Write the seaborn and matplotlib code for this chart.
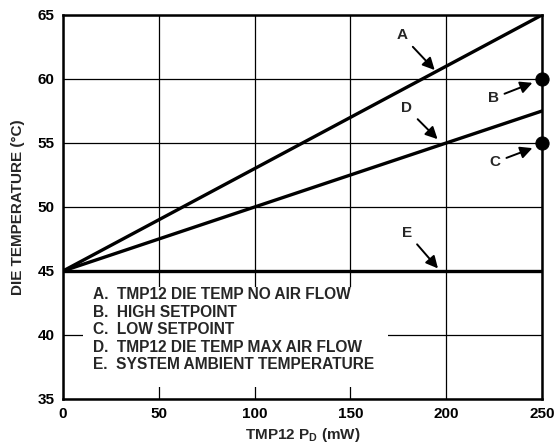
import matplotlib
matplotlib.use("Agg")
import matplotlib.pyplot as plt
import seaborn as sns
import pandas as pd
from matplotlib.patches import Rectangle

power_mw = [0, 250]
die_no_air = [45, 65]
die_max_air = [45, 57.5]
ambient = [45, 45]
setpoint_x = [250, 250]
setpoint_y = [60, 55]
x_ticks = [0, 50, 100, 150, 200, 250]
y_ticks = [35, 40, 45, 50, 55, 60, 65]
legend_lines = ["A.  TMP12 DIE TEMP NO AIR FLOW",
                "B.  HIGH SETPOINT",
                "C.  LOW SETPOINT",
                "D.  TMP12 DIE TEMP MAX AIR FLOW",
                "E.  SYSTEM AMBIENT TEMPERATURE"]

sns.set_style("white")
plt.rcParams['font.family'] = ['Liberation Sans', 'DejaVu Sans']
plt.rcParams['font.weight'] = 'bold'
plt.rcParams['mathtext.fontset'] = 'custom'
plt.rcParams['mathtext.rm'] = 'Liberation Sans:bold'
plt.rcParams['mathtext.bf'] = 'Liberation Sans:bold'

fig = plt.figure(figsize=(5.54, 4.45), dpi=100)
ax = fig.add_axes([63/554, 1-399/445, (542-63)/554, (399-15)/445])

df = pd.DataFrame({"x": power_mw * 3,
                   "y": die_no_air + die_max_air + ambient,
                   "s": ["A"]*2 + ["D"]*2 + ["E"]*2})
sns.lineplot(data=df, x="x", y="y", units="s", estimator=None, color="black",
             lw=2.4, ax=ax, legend=False, zorder=3)
sns.scatterplot(x=setpoint_x, y=setpoint_y, color="black", s=90, ax=ax,
                zorder=4, clip_on=False, edgecolor="black")

ax.set_xlim(0, 250)
ax.set_ylim(35, 65)
ax.set_xticks(x_ticks)
ax.set_yticks(y_ticks)
ax.grid(True, color="black", lw=0.9)
ax.set_axisbelow(True)
for s in ax.spines.values():
    s.set_linewidth(1.8)
    s.set_color("black")
ax.tick_params(length=0, labelsize=11, pad=6, colors="black")
for t in ax.get_xticklabels() + ax.get_yticklabels():
    t.set_fontweight("bold")

ax.set_xlabel(r"TMP12 P$_\mathbf{D}$ (mW)", fontsize=11, fontweight="bold", labelpad=3)
ax.set_ylabel("DIE TEMPERATURE (°C)", fontsize=11, fontweight="bold", labelpad=9)

ax.add_patch(Rectangle((10.5, 35.9), 159, 7.85, facecolor="white", edgecolor="none", zorder=1))
for i, line in enumerate(legend_lines):
    ax.text(15.5, 43.15 - i*1.37, line, fontsize=11.2, fontweight="bold",
            va="center", ha="left", zorder=2)

ap = dict(arrowstyle="-|>", color="black", lw=1.4, mutation_scale=18, shrinkA=2, shrinkB=0)
lab = dict(fontsize=11, fontweight="bold", ha="center", va="center", arrowprops=ap)
ax.annotate("A", xy=(194, 60.7), xytext=(177, 63.4), **lab)
ax.annotate("B", xy=(245, 59.7), xytext=(224.5, 58.5), **lab)
ax.annotate("D", xy=(195.5, 55.3), xytext=(179.5, 57.7), **lab)
ax.annotate("C", xy=(245, 54.6), xytext=(225.5, 53.5), **lab)
ax.annotate("E", xy=(195.7, 45.2), xytext=(179.5, 48.0), **lab)

fig.savefig("out.png", dpi=100)
